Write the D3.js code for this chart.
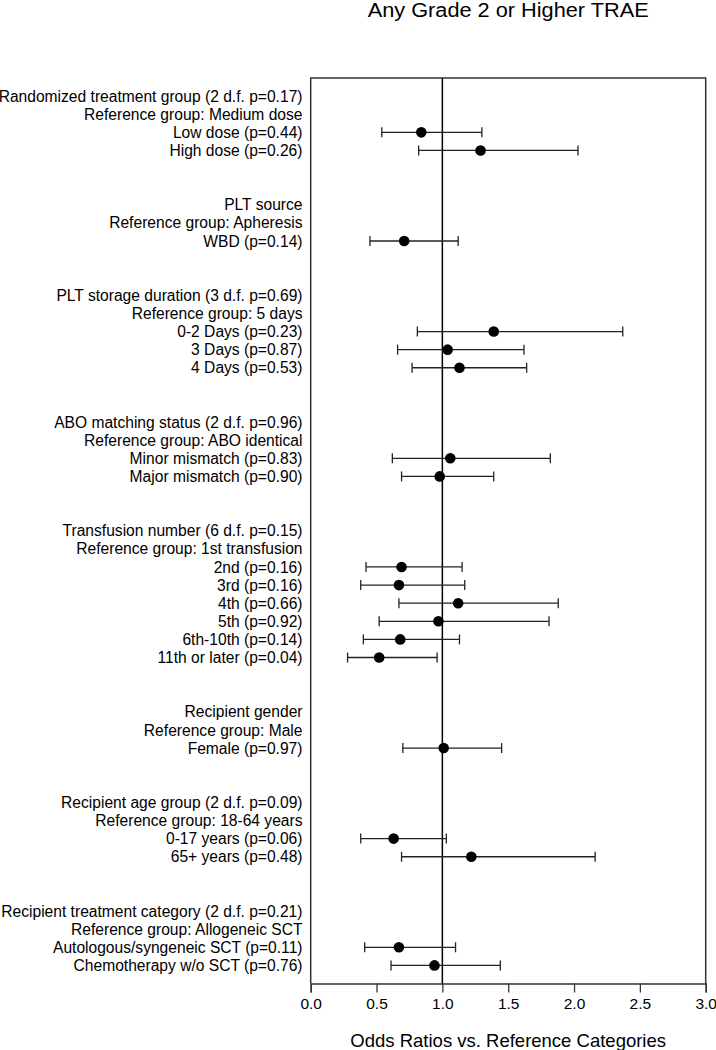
<!DOCTYPE html>
<html>
<head>
<meta charset="utf-8">
<script src="https://cdn.jsdelivr.net/npm/d3@7"></script>
<style>
  body { margin: 0; background: #fff; }
  text { font-family: "Liberation Sans", Arial, sans-serif; fill: #000; }
</style>
</head>
<body>
<svg id="chart" width="716" height="1050"></svg>
<script>
// row labels, top to bottom (blank rows between groups are left out of the list, their index is kept)
const labels = [
    "Randomized treatment group (2 d.f. p=0.17)", "Reference group: Medium dose", "Low dose (p=0.44)", "High dose (p=0.26)",
    "PLT source", "Reference group: Apheresis", "WBD (p=0.14)",
    "PLT storage duration (3 d.f. p=0.69)", "Reference group: 5 days", "0-2 Days (p=0.23)", "3 Days (p=0.87)", "4 Days (p=0.53)",
    "ABO matching status (2 d.f. p=0.96)", "Reference group: ABO identical", "Minor mismatch (p=0.83)", "Major mismatch (p=0.90)",
    "Transfusion number (6 d.f. p=0.15)", "Reference group: 1st transfusion", "2nd (p=0.16)", "3rd (p=0.16)", "4th (p=0.66)", "5th (p=0.92)", "6th-10th (p=0.14)", "11th or later (p=0.04)",
    "Recipient gender", "Reference group: Male", "Female (p=0.97)",
    "Recipient age group (2 d.f. p=0.09)", "Reference group: 18-64 years", "0-17 years (p=0.06)", "65+ years (p=0.48)",
    "Recipient treatment category (2 d.f. p=0.21)", "Reference group: Allogeneic SCT", "Autologous/syngeneic SCT (p=0.11)", "Chemotherapy w/o SCT (p=0.76)"
];
const rowIndex = [0, 1, 2, 3, 6, 7, 8, 11, 12, 13, 14, 15, 18, 19, 20, 21,
    24, 25, 26, 27, 28, 29, 30, 31, 34, 35, 36, 39, 40, 41, 42, 45, 46, 47, 48];

// estimates (null = header / reference row)
const oddsRatio = [null, null, 0.84, 1.29, null, null, 0.71, null, null, 1.39, 1.04, 1.13,
    null, null, 1.06, 0.98, null, null, 0.69, 0.67, 1.12, 0.97, 0.68, 0.52,
    null, null, 1.01, null, null, 0.63, 1.22, null, null, 0.67, 0.94];
const lower = [null, null, 0.54, 0.82, null, null, 0.45, null, null, 0.81, 0.66, 0.77,
    null, null, 0.62, 0.69, null, null, 0.42, 0.38, 0.67, 0.52, 0.40, 0.28,
    null, null, 0.70, null, null, 0.38, 0.69, null, null, 0.41, 0.61];
const upper = [null, null, 1.30, 2.03, null, null, 1.12, null, null, 2.37, 1.62, 1.64,
    null, null, 1.82, 1.39, null, null, 1.15, 1.17, 1.88, 1.81, 1.13, 0.96,
    null, null, 1.45, null, null, 1.03, 2.16, null, null, 1.10, 1.44];

const xTicks = [0.0, 0.5, 1.0, 1.5, 2.0, 2.5, 3.0];

const svg = d3.select("#chart");
const plotLeft = 310.7, plotRight = 705.7, plotTop = 78, plotBottom = 983.5;

const x = d3.scaleLinear().domain([0, 3]).range([plotLeft, plotRight]);
const y = d3.scaleLinear().domain([-1, 49]).range([plotTop, plotBottom]);

const rows = labels.map((label, i) => ({
    label: label,
    idx: rowIndex[i],
    or: oddsRatio[i],
    lo: lower[i],
    hi: upper[i]
}));

// title
svg.append("text")
    .attr("x", (plotLeft + plotRight) / 2)
    .attr("y", 17)
    .attr("text-anchor", "middle")
    .attr("textLength", 281)
    .attr("lengthAdjust", "spacingAndGlyphs")
    .style("font-size", "20px")
    .text("Any Grade 2 or Higher TRAE");

// frame
svg.append("path")
    .attr("d", `M${plotLeft},${plotBottom}V${plotTop}H${plotRight}V${plotBottom}`)
    .attr("fill", "none")
    .attr("stroke", "#333")
    .attr("stroke-width", 1.5);

// x axis
const xAxis = svg.append("g")
    .attr("transform", `translate(0,${plotBottom})`)
    .call(d3.axisBottom(x).tickValues(xTicks).tickFormat(d3.format(".1f")).tickSize(9).tickPadding(5));
xAxis.select(".domain").attr("stroke", "#333").attr("stroke-width", 1.5);
xAxis.selectAll(".tick line").attr("stroke", "#333").attr("stroke-width", 1.3);
xAxis.selectAll(".tick text")
    .style("font-family", "'Liberation Sans', Arial, sans-serif")
    .style("font-size", "15.5px")
    .attr("fill", "#000");

svg.append("text")
    .attr("x", (plotLeft + plotRight) / 2)
    .attr("y", 1047)
    .attr("text-anchor", "middle")
    .style("font-size", "18.5px")
    .text("Odds Ratios vs. Reference Categories");

// reference line at OR = 1
svg.append("line")
    .attr("x1", x(1)).attr("x2", x(1))
    .attr("y1", plotTop).attr("y2", plotBottom)
    .attr("stroke", "#000")
    .attr("stroke-width", 1.5);

// row labels
svg.append("g")
    .selectAll("text")
    .data(rows)
    .enter()
    .append("text")
    .attr("x", 302.5)
    .attr("y", (d) => y(d.idx))
    .attr("dy", "0.36em")
    .attr("text-anchor", "end")
    .style("font-size", "15.6px")
    .text((d) => d.label);

const est = rows.filter((d) => d.or !== null);

const bars = svg.append("g")
    .attr("stroke", "#222")
    .attr("stroke-width", 1.3);

bars.selectAll(".ci")
    .data(est)
    .enter()
    .append("line")
    .attr("class", "ci")
    .attr("x1", (d) => x(d.lo))
    .attr("x2", (d) => x(d.hi))
    .attr("y1", (d) => y(d.idx))
    .attr("y2", (d) => y(d.idx));

bars.selectAll(".capLo")
    .data(est)
    .enter()
    .append("line")
    .attr("class", "capLo")
    .attr("x1", (d) => x(d.lo))
    .attr("x2", (d) => x(d.lo))
    .attr("y1", (d) => y(d.idx) - 5)
    .attr("y2", (d) => y(d.idx) + 5);

bars.selectAll(".capHi")
    .data(est)
    .enter()
    .append("line")
    .attr("class", "capHi")
    .attr("x1", (d) => x(d.hi))
    .attr("x2", (d) => x(d.hi))
    .attr("y1", (d) => y(d.idx) - 5)
    .attr("y2", (d) => y(d.idx) + 5);

svg.append("g")
    .selectAll("circle")
    .data(est)
    .enter()
    .append("circle")
    .attr("cx", (d) => x(d.or))
    .attr("cy", (d) => y(d.idx))
    .attr("r", 5.3)
    .attr("fill", "#000");
</script>
</body>
</html>
